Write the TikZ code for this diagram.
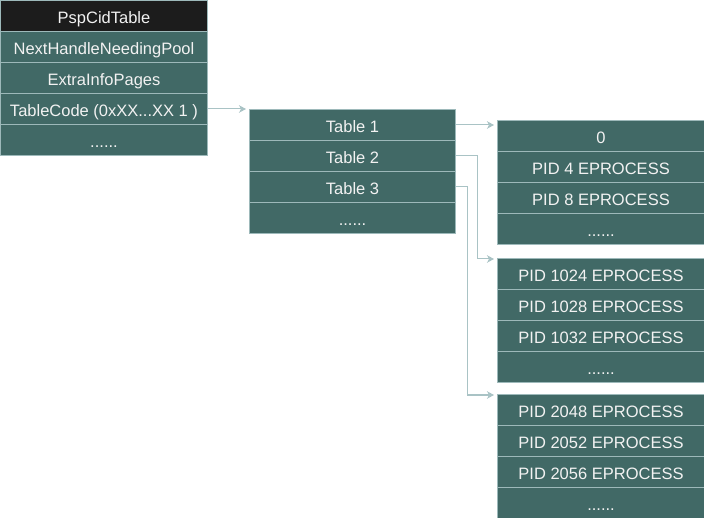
\documentclass[tikz,border=0pt]{standalone}
\usepackage{fontspec}
\setmainfont{Liberation Sans}
\usetikzlibrary{arrows.meta}
\definecolor{cellfill}{HTML}{416966}
\definecolor{cellline}{HTML}{9DB9BA}
\definecolor{connline}{HTML}{A9C3C5}
\definecolor{headfill}{HTML}{1C1C1C}
\definecolor{celltext}{HTML}{F2F2F2}
\tikzset{
  x=1pt, y=1pt,
  cell/.style={draw=cellline, line width=1pt, fill=cellfill, text=celltext,
    anchor=north west, minimum height=31pt, inner sep=0pt,
    text height=15.9pt, text depth=0pt, font=\fontsize{16.5}{18}\selectfont},
  lcell/.style={cell, minimum width=207pt},
  mcell/.style={cell, minimum width=206pt},
  rcell/.style={cell, minimum width=207pt},
  head/.style={fill=headfill},
  conn/.style={draw=connline, line width=1pt, shorten >=3pt,
    -{Stealth[length=7pt,width=7.5pt,inset=2pt]}}
}
\begin{document}
\begin{tikzpicture}
\useasboundingbox (0,0) rectangle (704,-518);
% left table
\node[lcell, head] (l0) at (0,0) {PspCidTable};
\node[lcell] (l1) at (0,-31) {NextHandleNeedingPool};
\node[lcell] (l2) at (0,-62) {ExtraInfoPages};
\node[lcell] (l3) at (0,-93) {TableCode (0xXX...XX 1 )};
\node[lcell] (l4) at (0,-124) {......};
% middle table
\node[mcell] (m1) at (249,-109) {Table 1};
\node[mcell] (m2) at (249,-140) {Table 2};
\node[mcell] (m3) at (249,-171) {Table 3};
\node[mcell] (m4) at (249,-202) {......};
% right table 1
\node[rcell] (a1) at (497,-120) {0};
\node[rcell] (a2) at (497,-151) {PID 4 EPROCESS};
\node[rcell] (a3) at (497,-182) {PID 8 EPROCESS};
\node[rcell] (a4) at (497,-213) {......};
% right table 2
\node[rcell] (b1) at (497,-258) {PID 1024 EPROCESS};
\node[rcell] (b2) at (497,-289) {PID 1028 EPROCESS};
\node[rcell] (b3) at (497,-320) {PID 1032 EPROCESS};
\node[rcell] (b4) at (497,-351) {......};
% right table 3
\node[rcell] (c1) at (497,-394) {PID 2048 EPROCESS};
\node[rcell] (c2) at (497,-425) {PID 2052 EPROCESS};
\node[rcell] (c3) at (497,-456) {PID 2056 EPROCESS};
\node[rcell] (c4) at (497,-487) {......};
% connectors
\draw[conn] (l3.east) -- (l3.east -| m1.west);
\draw[conn] (m1.east) -- (m1.east -| a1.west);
\draw[conn] (m2.east) -- ++(21,0) |- ([yshift=-1pt]b1.north west);
\draw[conn] (m3.east) -- ++(11,0) |- ([yshift=-1pt]c1.north west);
\end{tikzpicture}
\end{document}
